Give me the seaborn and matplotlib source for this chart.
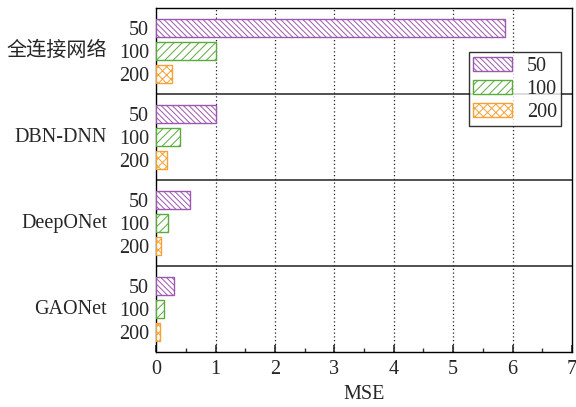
import numpy as np
import pandas as pd
import matplotlib
matplotlib.use("Agg")
import matplotlib.pyplot as plt
import seaborn as sns
from matplotlib.ticker import MultipleLocator
import matplotlib.transforms as mtransforms

models = ['全连接网络', 'DBN-DNN', 'DeepONet', 'GAONet']
sizes = ['50', '100', '200']
mse_50 = [5.88, 1.0, 0.57, 0.30]
mse_100 = [1.0, 0.40, 0.20, 0.14]
mse_200 = [0.27, 0.19, 0.08, 0.07]
x_ticks = [0, 1, 2, 3, 4, 5, 6, 7]

sns.set_theme(style="white")
plt.rcParams['font.family'] = ['Liberation Serif', 'Noto Sans CJK SC', 'DejaVu Sans']
plt.rcParams['hatch.linewidth'] = 0.7

colors = ['#9c58ae', '#5aab3a', '#f5a133']
hatches = ['\\' * 6, '////', 'xxxx']
FS = 14.5

G = 3.74
rows = []
for g, m in enumerate(models):
    for i, (s, vals) in enumerate(zip(sizes, [mse_50, mse_100, mse_200])):
        rows.append({'model': m, 'n': s, 'pos': g * G + i, 'mse': vals[g]})
df = pd.DataFrame(rows)

fig = plt.figure(figsize=(5.76, 4.07), dpi=100)
ax = fig.add_axes([0.271, 0.135, 0.722, 0.845])

sns.barplot(data=df, x='mse', y='pos', hue='n', hue_order=sizes, orient='y',
            native_scale=True, dodge=False, palette=colors, width=0.78,
            legend=False, ax=ax, zorder=3)

for cont, c, h in zip(ax.containers, colors, hatches):
    for p in cont:
        p.set_facecolor('white')
        p.set_edgecolor(c)
        p.set_hatch(h)
        p.set_linewidth(1.0)

ax.set_xlim(0, 7)
ax.set_ylim(4 * G - 0.87, -0.87)
ax.set_xticks(x_ticks)
ax.xaxis.set_minor_locator(MultipleLocator(0.5))
ax.tick_params(axis='x', which='both', direction='in', bottom=True, top=False,
               labelsize=FS, color='#333333', pad=6)
ax.tick_params(axis='x', which='major', length=5)
ax.tick_params(axis='x', which='minor', length=3)

ax.set_yticks(df['pos'].tolist())
ax.set_yticklabels(df['n'].tolist(), fontsize=FS)
ax.tick_params(axis='y', length=0, pad=5)

for xv in x_ticks[1:-1]:
    ax.axvline(xv, color='#222222', linestyle=(0, (1, 2)), lw=0.9, zorder=1)
for g in range(len(models) - 1):
    ax.axhline(g * G + 2.87, color='#333333', lw=1.2, zorder=2)

trans = mtransforms.blended_transform_factory(ax.transAxes, ax.transData)
for g, m in enumerate(models):
    ax.text(-0.118, g * G + 1, m, transform=trans, ha='right', va='center', fontsize=FS)

for sp in ax.spines.values():
    sp.set_color('black')
    sp.set_linewidth(1.0)

ax.set_xlabel('MSE', fontsize=FS, labelpad=4)
ax.set_ylabel('')

leg = ax.legend(ax.containers, sizes, loc='upper left', bbox_to_anchor=(0.752, 0.872),
                borderaxespad=0, frameon=True, fancybox=False, fontsize=FS,
                handlelength=1.9, handleheight=0.75, labelspacing=0.18,
                borderpad=0.22, handletextpad=0.75)
leg.get_frame().set_edgecolor('black')
leg.get_frame().set_linewidth(1.0)
leg.set_zorder(5)

fig.savefig('out.png', dpi=100)
